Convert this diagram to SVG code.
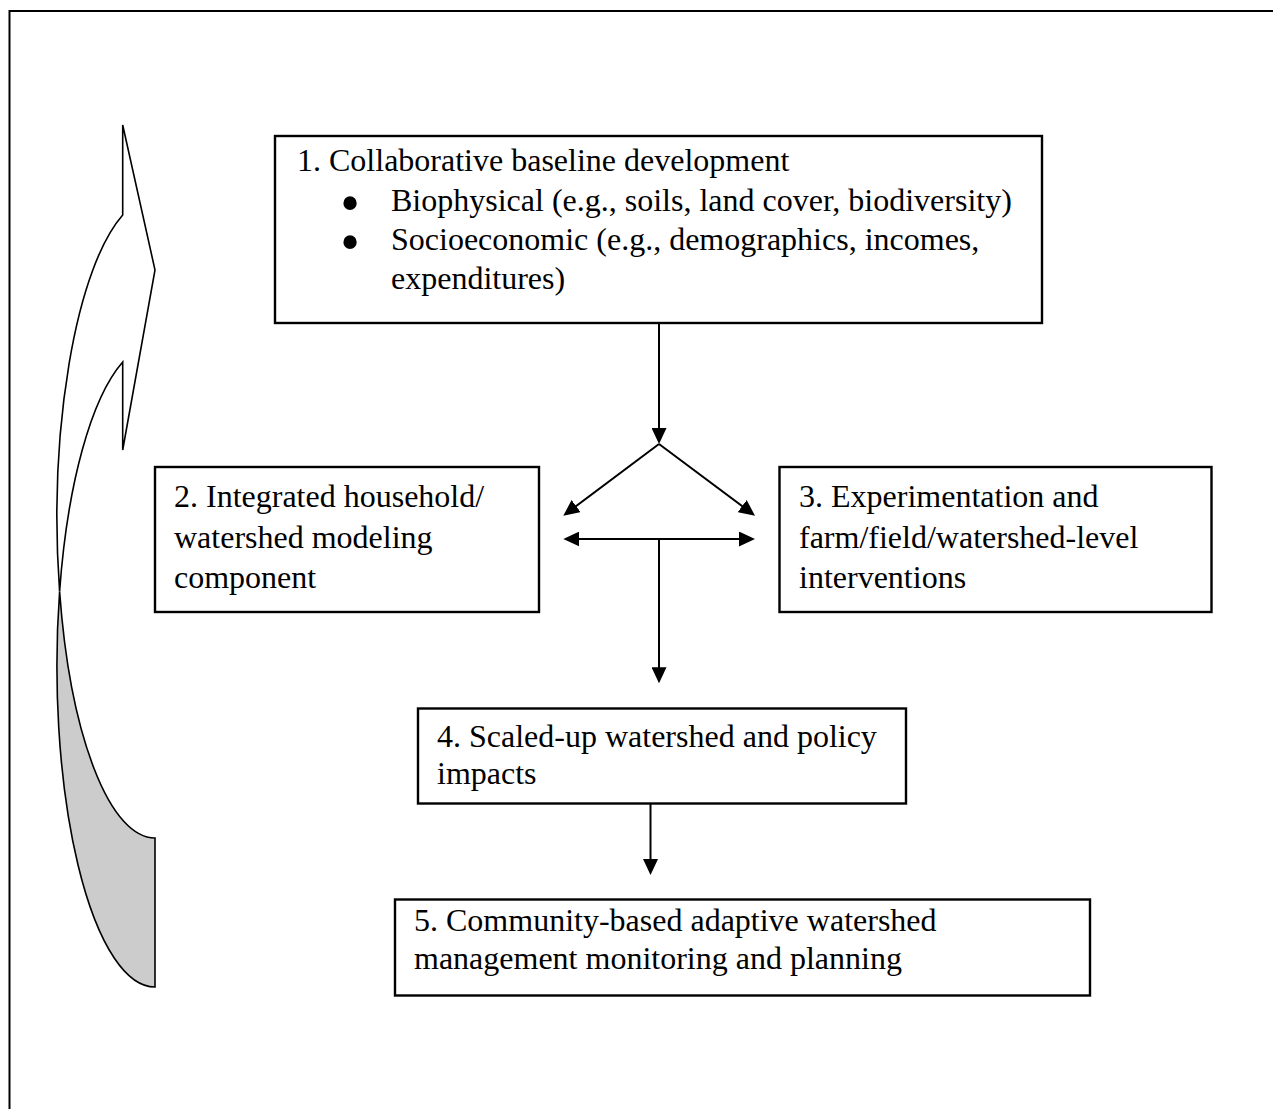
<svg xmlns="http://www.w3.org/2000/svg" width="1273" height="1109" viewBox="0 0 1273 1109">
<style>
  .box { fill: #ffffff; stroke: #000000; stroke-width: 2.4; }
  .t { font-family: "Liberation Serif", "Times New Roman", serif; font-size: 32px; fill: #000000; }
  .bul { font-family: "Liberation Serif", "Times New Roman", serif; font-size: 56px; fill: #000000; text-anchor: middle; }
  .conn { fill: none; stroke: #000000; stroke-width: 2; }
  .cyc { stroke: #000000; stroke-width: 1.6; stroke-linejoin: miter; }
</style>
<defs>
  <marker id="ah" viewBox="0 0 16 15" markerUnits="userSpaceOnUse" markerWidth="16" markerHeight="15" refX="8" refY="7.5" orient="auto-start-reverse">
    <path d="M0,0 L16,7.5 L0,15 Z" fill="#000000"/>
  </marker>
</defs>
<rect width="1273" height="1109" fill="#ffffff"/>
<rect x="9.5" y="11" width="1400" height="1300" fill="none" stroke="#000000" stroke-width="2"/>

<g id="cycle-arrow">
  <path class="cyc" fill="#cccccc" d="M59.6,591.5 A98,321 0 0 0 155,987 L155,838 A98,321 0 0 1 59.6,591.5 Z"/>
  <path class="cyc" fill="#ffffff" d="M122.7,215 L122.7,125 L155,270 L122.7,450 L122.7,362 A98,321 0 0 0 59.6,591.5 A98,321 0 0 1 122.7,215 Z"/>
</g>

<g id="node1">
  <rect class="box" x="275" y="136" width="767" height="187"/>
  <text class="t" x="297" y="171">1. Collaborative baseline development</text>
  <text class="bul" x="350" y="222">•</text>
  <text class="t" x="391" y="210.5">Biophysical (e.g., soils, land cover, biodiversity)</text>
  <text class="bul" x="350" y="260.5">•</text>
  <text class="t" x="391" y="249.5">Socioeconomic (e.g., demographics, incomes,</text>
  <text class="t" x="391" y="288.5">expenditures)</text>
</g>

<g id="node2">
  <rect class="box" x="155" y="467" width="384" height="145"/>
  <text class="t" x="174" y="507">2. Integrated household/</text>
  <text class="t" x="174" y="548">watershed modeling</text>
  <text class="t" x="174" y="588">component</text>
</g>

<g id="node3">
  <rect class="box" x="779.5" y="467" width="432" height="145"/>
  <text class="t" x="799" y="507">3. Experimentation and</text>
  <text class="t" x="799" y="548">farm/field/watershed-level</text>
  <text class="t" x="799" y="588">interventions</text>
</g>

<g id="node4">
  <rect class="box" x="418" y="708.5" width="488" height="95"/>
  <text class="t" x="437" y="747">4. Scaled-up watershed and policy</text>
  <text class="t" x="437" y="784">impacts</text>
</g>

<g id="node5">
  <rect class="box" x="395" y="899.5" width="695" height="96"/>
  <text class="t" x="414" y="930.5">5. Community-based adaptive watershed</text>
  <text class="t" x="414" y="969">management monitoring and planning</text>
</g>

<g id="connectors">
  <path class="conn" d="M659,323 V436" marker-end="url(#ah)"/>
  <path class="conn" d="M659,444 L569.7,510.9" marker-end="url(#ah)"/>
  <path class="conn" d="M659,444 L748.6,510.9" marker-end="url(#ah)"/>
  <path class="conn" d="M571.3,539 H747" marker-start="url(#ah)" marker-end="url(#ah)"/>
  <path class="conn" d="M659,539 V675.3" marker-end="url(#ah)"/>
  <path class="conn" d="M650.5,803.5 V867" marker-end="url(#ah)"/>
</g>
</svg>
